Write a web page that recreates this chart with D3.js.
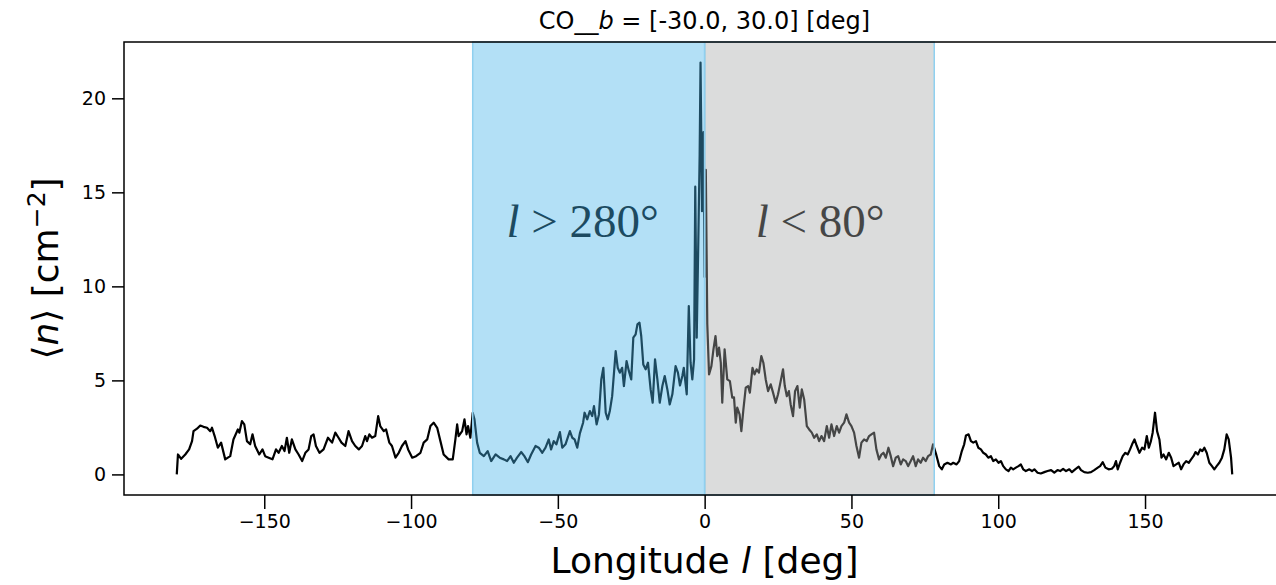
<!DOCTYPE html>
<html>
<head>
<meta charset="utf-8">
<script src="https://cdn.jsdelivr.net/npm/d3@7"></script>
<style>
    body { margin: 0; background: #fff; }
    svg { display: block; }
    text { font-family: "DejaVu Sans", sans-serif; fill: #000; }
</style>
</head>
<body>
<svg id="chart" width="1276" height="585"></svg>
<script>
// galactic longitude [deg]
const longitude = [
    -179.8, -179.4, -178.3, -176.9, -175.6, -174.6, -174.1, -172.9, -171.8, -170.7,
    -169.5, -168.4, -167.8, -166.9, -165.8, -164.7, -163.3, -161.6, -160.5, -159.0,
    -158.5, -157.6, -156.8, -155.9, -154.8, -154.0, -153.1, -151.7, -150.6, -149.7,
    -148.5, -147.2, -146.0, -145.1, -144.0, -143.1, -142.3, -141.5, -140.6, -139.4,
    -138.3, -137.1, -136.0, -134.9, -134.0, -133.2, -132.4, -131.2, -129.8, -128.3,
    -126.9, -125.8, -124.7, -123.7, -122.4, -121.3, -120.1, -119.0, -117.8, -116.7,
    -115.6, -115.0, -114.2, -113.3, -112.2, -111.2, -110.5, -109.3, -108.5, -107.4,
    -106.5, -105.3, -104.2, -103.1, -101.9, -101.0, -99.6, -98.3, -96.8, -95.7,
    -94.5, -93.4, -92.3, -91.1, -90.0, -88.9, -87.2, -85.8, -84.9, -84.3,
    -83.8, -82.6, -81.8, -81.1, -80.6, -79.8, -79.0, -78.4, -77.5, -76.6,
    -75.2, -73.9, -72.7, -71.2, -69.8, -68.4, -67.3, -66.1, -65.0, -63.9,
    -62.5, -61.4, -60.2, -59.1, -57.6, -56.5, -55.3, -54.2, -53.1, -52.3,
    -51.4, -50.5, -49.3, -48.5, -47.4, -45.9, -45.1, -44.3, -43.4, -42.5,
    -41.4, -40.9, -40.0, -39.1, -38.3, -37.7, -36.8, -36.0, -35.2, -34.5,
    -33.7, -33.0, -32.3, -31.5, -30.3, -29.6, -28.9, -28.1, -27.5, -26.6,
    -25.8, -25.0, -24.3, -23.5, -22.9, -22.2, -21.6, -20.9, -20.1, -19.3,
    -18.4, -17.7, -16.9, -16.1, -15.3, -14.4, -13.6, -12.7, -11.9, -11.0,
    -9.9, -9.1, -8.4, -7.6, -7.1, -6.1, -5.4, -4.8, -4.2, -3.6,
    -3.2, -2.7, -2.2, -1.7, -1.4, -0.9, -0.4, 0.0, 0.4, 0.9,
    1.5, 2.3, 3.0, 3.7, 4.3, 4.9, 5.5, 6.0, 6.8, 7.7,
    8.6, 9.4, 10.0, 10.6, 11.1, 11.9, 12.5, 13.2, 14.0, 14.8,
    15.4, 16.3, 17.0, 17.7, 18.5, 19.3, 20.0, 20.8, 21.6, 22.5,
    23.3, 24.2, 25.0, 25.9, 26.7, 27.3, 28.0, 28.7, 29.3, 30.1,
    30.8, 31.6, 32.4, 33.1, 33.9, 34.8, 35.6, 36.5, 37.3, 38.2,
    39.0, 39.8, 40.7, 41.6, 42.4, 43.2, 44.1, 45.0, 45.8, 46.6,
    47.5, 48.3, 49.2, 50.0, 50.9, 51.7, 52.6, 53.4, 54.3, 55.2,
    56.0, 56.8, 57.7, 58.5, 59.4, 60.2, 60.9, 61.7, 62.6, 63.4,
    64.2, 65.1, 65.9, 66.8, 67.6, 68.5, 69.3, 70.2, 71.0, 71.9,
    72.7, 73.6, 74.4, 75.3, 76.1, 77.0, 77.8, 78.8, 79.9, 80.8,
    81.6, 82.7, 83.9, 84.7, 85.8, 86.7, 87.6, 88.4, 89.0, 89.9,
    90.7, 91.5, 92.4, 93.2, 94.1, 94.9, 95.8, 96.6, 97.5, 98.3,
    99.2, 100.1, 100.9, 101.7, 102.6, 103.5, 104.3, 105.1, 106.0, 106.9,
    107.7, 108.5, 109.4, 110.6, 111.5, 112.3, 113.4, 114.5, 115.7, 116.8,
    118.0, 119.1, 120.2, 121.1, 122.1, 123.1, 124.2, 125.1, 126.2, 127.4,
    128.2, 129.3, 130.5, 131.6, 132.7, 133.9, 134.7, 135.6, 136.5, 137.6,
    138.7, 139.5, 140.1, 140.7, 141.5, 142.4, 143.3, 144.1, 144.9, 145.6,
    146.4, 147.2, 148.1, 149.0, 149.8, 150.6, 151.3, 152.0, 152.6, 153.4,
    154.1, 154.9, 155.6, 156.3, 157.2, 158.1, 158.9, 159.7, 160.6, 161.5,
    162.3, 163.1, 164.0, 164.9, 165.7, 166.5, 167.2, 168.0, 168.8, 169.5,
    170.2, 171.0, 171.9, 172.8, 173.6, 174.4, 175.3, 176.2, 177.0, 177.8,
    178.5, 179.3, 179.7
];

// <n> [cm^-2] at each longitude
const meanDensity = [
    0.00, 1.06, 0.83, 1.06, 1.33, 1.77, 2.30, 2.43, 2.60, 2.53,
    2.48, 2.30, 2.48, 2.04, 1.42, 1.69, 0.80, 0.97, 1.86, 2.39,
    2.22, 2.84, 2.66, 1.77, 1.60, 2.13, 1.51, 1.06, 1.33, 0.97,
    0.89, 0.80, 1.33, 1.15, 1.51, 1.24, 1.95, 1.15, 1.86, 1.33,
    1.06, 0.71, 1.15, 1.33, 2.04, 2.13, 1.51, 1.15, 1.33, 1.95,
    1.69, 2.22, 1.95, 1.69, 1.51, 2.30, 1.77, 1.51, 1.33, 1.51,
    2.04, 1.77, 2.13, 1.95, 2.04, 3.10, 2.57, 2.30, 2.39, 1.69,
    1.51, 0.89, 1.15, 1.51, 1.77, 1.33, 0.89, 0.97, 1.15, 1.69,
    1.86, 2.57, 2.75, 2.48, 1.77, 1.06, 0.80, 0.80, 1.86, 2.66,
    2.04, 2.30, 2.93, 2.13, 2.57, 1.95, 3.28, 2.93, 1.69, 1.15,
    0.97, 1.24, 0.71, 1.06, 0.89, 0.80, 0.71, 0.97, 0.62, 0.89,
    1.19, 0.97, 0.65, 1.06, 1.51, 1.42, 1.15, 1.42, 1.86, 1.33,
    1.77, 1.60, 2.25, 1.42, 1.60, 2.30, 1.95, 1.86, 1.42, 2.18,
    2.75, 3.28, 2.93, 3.37, 3.10, 3.63, 2.66, 3.19, 5.05, 5.67,
    3.28, 2.93, 3.37, 4.16, 6.56, 5.67, 5.41, 5.67, 4.70, 6.03,
    5.49, 5.05, 7.27, 7.45, 7.98, 8.07, 7.36, 5.85, 5.59, 5.94,
    4.52, 3.81, 6.12, 5.05, 3.81, 4.70, 5.23, 4.52, 3.72, 4.26,
    5.76, 5.41, 4.73, 5.23, 5.67, 4.26, 8.95, 5.94, 5.05, 6.12,
    15.3, 7.27, 12.0, 17.0, 21.9, 14.0, 18.2, 10.5, 16.2, 8.00,
    5.32, 5.76, 6.65, 7.36, 6.29, 6.74, 5.94, 3.81, 6.65, 5.05,
    4.96, 4.08, 4.10, 2.75, 3.55, 3.19, 2.30, 3.46, 4.61, 4.70,
    4.35, 5.67, 5.32, 5.59, 5.41, 6.29, 5.94, 5.05, 4.43, 4.79,
    4.35, 3.81, 4.26, 4.96, 5.59, 4.70, 4.16, 4.43, 3.72, 3.10,
    4.43, 4.70, 3.55, 4.52, 3.99, 2.57, 2.39, 2.22, 1.95, 2.13,
    1.77, 2.04, 1.77, 2.57, 1.95, 2.66, 2.04, 2.57, 2.22, 2.57,
    2.75, 3.19, 2.75, 2.57, 2.22, 1.51, 0.89, 1.69, 1.86, 1.77,
    2.04, 2.13, 2.22, 1.33, 0.80, 1.06, 1.15, 0.89, 1.42, 0.97,
    0.44, 0.89, 0.97, 0.53, 0.80, 0.71, 0.44, 0.71, 0.97, 0.44,
    0.80, 0.62, 0.89, 0.71, 0.97, 1.06, 1.60, 1.10, 0.44, 0.27,
    0.53, 0.62, 0.53, 0.62, 0.53, 0.71, 1.24, 1.60, 2.07, 2.13,
    1.77, 1.69, 1.77, 1.42, 1.33, 1.15, 1.06, 0.89, 0.97, 0.71,
    0.80, 0.62, 0.71, 0.44, 0.27, 0.18, 0.36, 0.27, 0.36, 0.44,
    0.53, 0.27, 0.18, 0.27, 0.18, 0.27, 0.09, 0.05, 0.12, 0.18,
    0.23, 0.09, 0.23, 0.18, 0.30, 0.18, 0.27, 0.12, 0.27, 0.41,
    0.23, 0.12, 0.09, 0.12, 0.23, 0.36, 0.44, 0.65, 0.36, 0.27,
    0.30, 0.44, 0.71, 0.27, 0.62, 0.97, 1.15, 1.06, 1.33, 1.60,
    1.86, 1.51, 1.15, 1.42, 1.33, 2.04, 1.42, 1.77, 2.22, 3.28,
    2.30, 1.86, 0.89, 1.06, 0.80, 1.15, 0.89, 0.44, 0.53, 0.62,
    0.27, 0.53, 0.71, 0.62, 0.80, 0.97, 1.19, 1.06, 1.33, 1.24,
    1.42, 1.15, 0.62, 0.44, 0.27, 0.44, 0.62, 0.89, 1.33, 2.13,
    1.86, 0.89, 0.00
];

const xTicks = [-150, -100, -50, 0, 50, 100, 150];
const yTicks = [0, 5, 10, 15, 20];

// shaded longitude ranges (l > 280 and l < 80)
const spanStart = [-79.0, 0.0];
const spanEnd = [0.0, 78.2];
const spanRelation = [">", "<"];
const spanLimit = ["280°", "80°"];
const labelLon = [-67.5, 17.4];
const labelValue = [12.6, 12.6];

const spanColors = ["rgb(71,180,232)", "rgb(168,170,170)"];

const svg = d3.select("#chart");
const margin = { top: 42, right: -9, bottom: 90, left: 124 };
const width = 1276 - margin.left - margin.right;
const height = 585 - margin.top - margin.bottom;

const data = longitude.map((l, i) => ({ lon: l, val: meanDensity[i] }));

// matplotlib style 5% margins
const [xMin, xMax] = d3.extent(longitude);
const [yMin, yMax] = d3.extent(meanDensity);
const xPad = (xMax - xMin) * 0.05;
const yPad = (yMax - yMin) * 0.05;

const x = d3.scaleLinear()
    .domain([xMin - xPad, xMax + xPad])
    .range([0, width]);

const y = d3.scaleLinear()
    .domain([yMin - yPad, yMax + yPad])
    .range([height, 0]);

const g = svg.append("g")
    .attr("transform", `translate(${margin.left},${margin.top})`);

// profile line
const line = d3.line()
    .x(d => x(d.lon))
    .y(d => y(d.val));

g.append("path")
    .datum(data)
    .attr("fill", "none")
    .attr("stroke", "#000")
    .attr("stroke-width", 2.2)
    .attr("stroke-linejoin", "round")
    .attr("d", line);

// range labels, drawn under the translucent spans
spanRelation.forEach((rel, i) => {
    const t = g.append("text")
        .attr("x", x(labelLon[i]))
        .attr("y", y(labelValue[i]))
        .style("font-family", "'Liberation Serif', 'Times New Roman', serif")
        .style("font-size", "47px");
    t.append("tspan").style("font-style", "italic").text("l");
    t.append("tspan").text(` ${rel} ${spanLimit[i]}`);
});

// shaded spans
spanStart.forEach((s, i) => {
    g.append("rect")
        .attr("x", x(s))
        .attr("y", 0)
        .attr("width", x(spanEnd[i]) - x(s))
        .attr("height", height)
        .attr("fill", spanColors[i])
        .attr("fill-opacity", 0.41)
        .attr("stroke", "#8fd0ef")
        .attr("stroke-width", 1.5);
});

// x axis
const xAxis = g.append("g")
    .attr("transform", `translate(0,${height})`)
    .call(d3.axisBottom(x)
        .tickValues(xTicks)
        .tickSize(14)
        .tickPadding(6)
        .tickFormat(d => d < 0 ? "\u2212" + Math.abs(d) : d));
xAxis.select(".domain").remove();
xAxis.selectAll(".tick line").attr("stroke-width", 1.5);
xAxis.selectAll(".tick text")
    .style("font-size", "19px")
    .style("font-family", "'DejaVu Sans', sans-serif");

// y axis
const yAxis = g.append("g")
    .call(d3.axisLeft(y)
        .tickValues(yTicks)
        .tickSize(12)
        .tickPadding(6));
yAxis.select(".domain").remove();
yAxis.selectAll(".tick line").attr("stroke-width", 1.5);
yAxis.selectAll(".tick text")
    .style("font-size", "19px")
    .style("font-family", "'DejaVu Sans', sans-serif");

// frame
g.append("rect")
    .attr("width", width)
    .attr("height", height)
    .attr("fill", "none")
    .attr("stroke", "#000")
    .attr("stroke-width", 1.5);

// title
const title = svg.append("text")
    .attr("x", margin.left + width / 2)
    .attr("y", 29)
    .attr("text-anchor", "middle")
    .style("font-size", "24px");
title.append("tspan").text("CO__");
title.append("tspan").style("font-style", "italic").text("b");
title.append("tspan").text(" = [-30.0, 30.0] [deg]");

// x label
const xLabel = svg.append("text")
    .attr("x", margin.left + width / 2)
    .attr("y", 573)
    .attr("text-anchor", "middle")
    .style("font-size", "36px");
xLabel.append("tspan").text("Longitude ");
xLabel.append("tspan").style("font-style", "italic").text("l");
xLabel.append("tspan").text(" [deg]");

// y label
const yLabel = svg.append("text")
    .attr("transform", `translate(58,${margin.top + height / 2}) rotate(-90)`)
    .attr("text-anchor", "middle")
    .style("font-size", "36px");
yLabel.append("tspan").text("\u27E8");
yLabel.append("tspan").style("font-style", "italic").text("n");
yLabel.append("tspan").text("\u27E9 [cm");
yLabel.append("tspan").attr("dy", -13).style("font-size", "25px").text("\u22122");
yLabel.append("tspan").attr("dy", 13).text("]");
</script>
</body>
</html>
